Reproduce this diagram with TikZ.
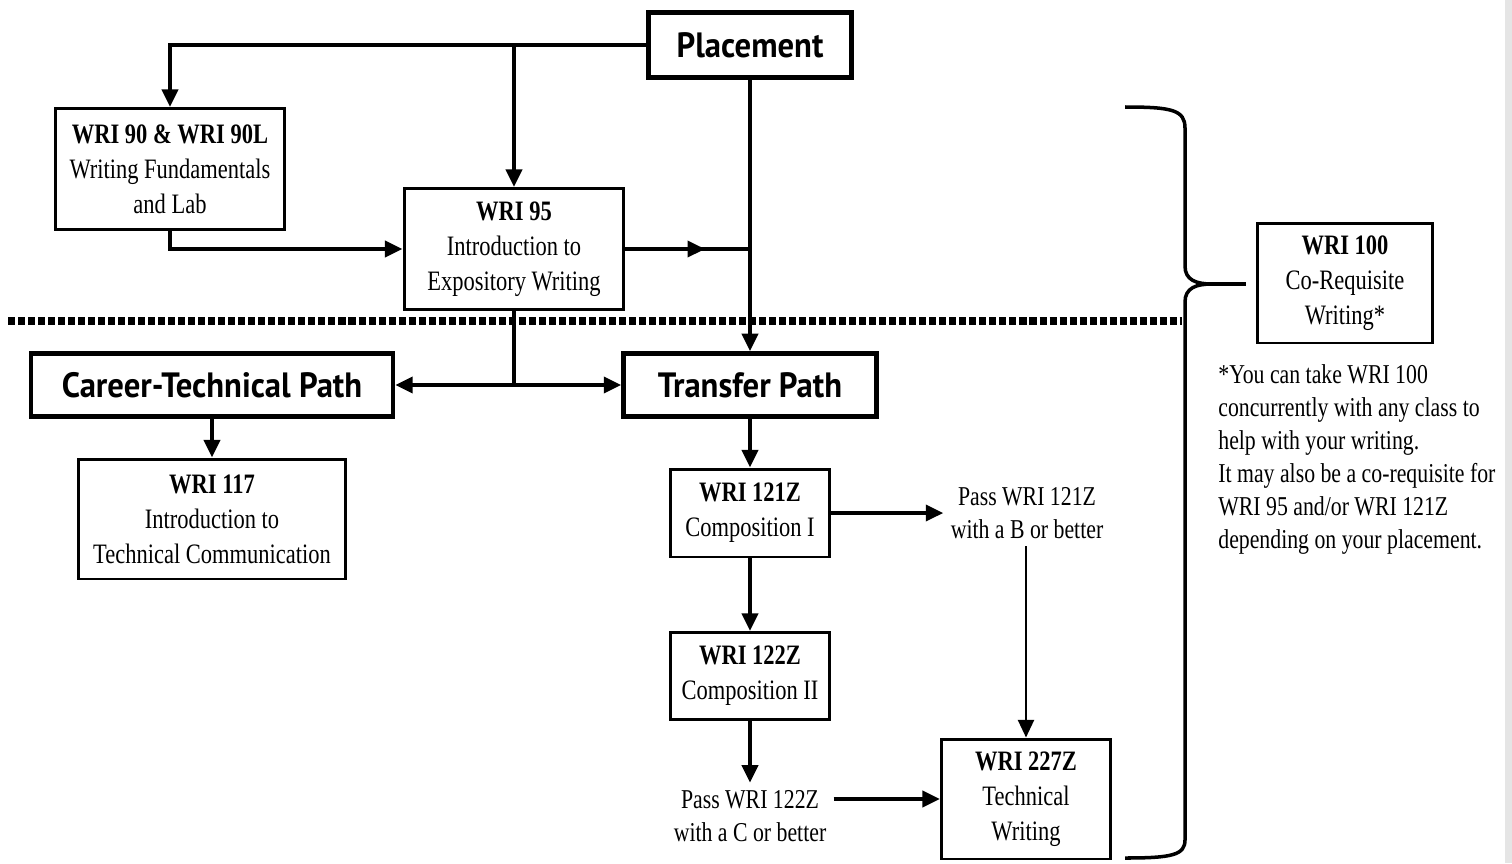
\documentclass[tikz,border=0pt]{standalone}
\usepackage{fontspec}
\setmainfont[FakeStretch=0.8]{Liberation Serif}
\newfontfamily\pathfont[FakeStretch=0.93]{PT Sans}
\usetikzlibrary{arrows.meta,decorations.markings}

\tikzset{
	course/.style = {draw, line width=1.7pt, align=center, inner sep=0pt, font=\fontsize{16}{20}\selectfont},
	pathbox/.style = {draw, line width=2.5pt, align=center, inner sep=0pt, font=\pathfont\bfseries\fontsize{20}{24}\selectfont},
	passtext/.style = {align=center, inner sep=4pt, font=\fontsize{15.5}{19}\selectfont},
	link/.style = {line width=2.3pt},
	arr/.style = {link, -{Triangle[length=10pt,width=9pt]}},
	midarr/.style = {link, postaction={decorate}, decoration={markings, mark=at position 0.64 with {\arrow{Triangle[length=10pt,width=9pt]}}}},
	divider/.style = {line width=4pt, dash pattern=on 4pt off 1.7pt},
}

\begin{document}
\begin{tikzpicture}[x=0.02cm, y=-0.02cm]
		\useasboundingbox (0,0) rectangle (1512,863);
		\fill[black!10] (1505,0) rectangle (1512,863);

		\node[pathbox, minimum width=4.06cm, minimum height=1.3cm] (place) at (750,45) {Placement};
		\node[course, minimum width=4.6cm, minimum height=2.42cm] (wri90) at (170,169) {\textbf{WRI 90 \& WRI 90L}\\Writing Fundamentals\\and Lab};
		\node[course, minimum width=4.4cm, minimum height=2.42cm] (wri95) at (514,249) {\textbf{WRI 95}\\Introduction to\\Expository Writing};
		\node[pathbox, minimum width=7.24cm, minimum height=1.26cm] (career) at (212,385) {Career-Technical Path};
		\node[pathbox, minimum width=5.06cm, minimum height=1.26cm] (transfer) at (750,385) {Transfer Path};
		\node[course, minimum width=5.34cm, minimum height=2.4cm] (wri117) at (212,519) {\textbf{WRI 117}\\Introduction to\\Technical Communication};
		\node[course, minimum width=3.2cm, minimum height=1.76cm] (wri121) at (750,513) {\textbf{WRI 121Z}\\Composition I};
		\node[course, minimum width=3.2cm, minimum height=1.74cm] (wri122) at (750,676) {\textbf{WRI 122Z}\\Composition II};
		\node[course, minimum width=3.38cm, minimum height=2.4cm] (wri227) at (1026,799) {\textbf{WRI 227Z}\\Technical\\Writing};
		\node[course, minimum width=3.5cm, minimum height=2.4cm] (wri100) at (1345,283) {\textbf{WRI 100}\\Co-Requisite\\Writing*};
		\node[passtext] (pass121) at (1027,513) {Pass WRI 121Z\\with a B or better};
		\node[passtext] (pass122) at (750,816) {Pass WRI 122Z\\with a C or better};
		\node[anchor=north west, align=left, inner sep=0pt, font=\fontsize{15.5}{18.8}\selectfont] (note) at (1218,364) {*You can take WRI 100\\concurrently with any class to\\help with your writing.\\It may also be a co-requisite for\\WRI 95 and/or WRI 121Z\\depending on your placement.};

		\coordinate (dotl) at (8,321);
		\coordinate (dotr) at (1182,321);
		\coordinate (split) at (wri95.south |- career.east);
		\coordinate (bracetop) at (1125,107);
		\coordinate (bracetip) at (1212,284);
		\coordinate (bracebot) at (1125,858);

		\draw[divider] (dotl) -- (dotr);

		\draw[arr] (place.west) -| (wri90.north);
		\draw[arr] (wri95.north |- place.west) -- (wri95.north);
		\draw[arr] (place.south) -- (transfer.north);
		\draw[arr] (wri90.south) |- (wri95.west);
		\draw[midarr] (wri95.east) -- (wri95.east -| place.south);
		\draw[link] (wri95.south) -- (split);
		\draw[arr] (split) -- (career.east);
		\draw[arr] (split) -- (transfer.west);
		\draw[arr] (career.south) -- (wri117.north);
		\draw[arr] (transfer.south) -- (wri121.north);
		\draw[arr] (wri121.east) -- (wri121.east -| pass121.west);
		\draw[line width=1.5pt, -{Triangle[length=10pt,width=9pt]}] (wri227.north |- pass121.south) -- (wri227.north);
		\draw[arr] (wri121.south) -- (wri122.north);
		\draw[arr] (wri122.south) -- (pass122.north);
		\draw[arr] (wri227.west -| pass122.east) -- (wri227.west);

		\draw[line width=2pt] (bracetop) .. controls (1172,107) and (1185,110) .. (1185,128) -- (1185,266) .. controls (1185,280) and (1196,284) .. (bracetip) .. controls (1196,284) and (1185,288) .. (1185,302) -- (1185,840) .. controls (1185,855) and (1172,858) .. (bracebot);
		\draw[line width=2.5pt, shorten >=5.5pt] (bracetip) -- (bracetip -| wri100.west);
\end{tikzpicture}
\end{document}
